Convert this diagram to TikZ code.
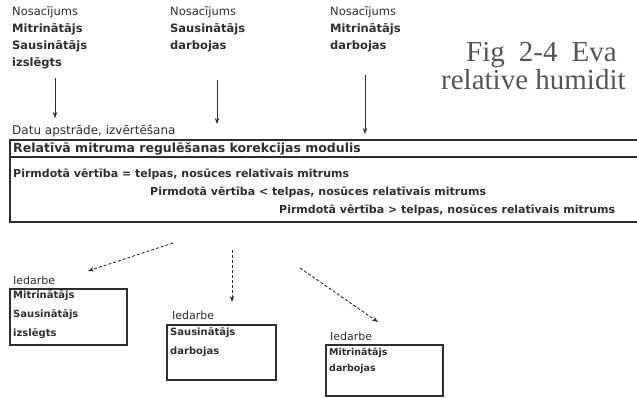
\documentclass[tikz,border=0pt]{standalone}
\usepackage{fontspec}
\setmainfont{DejaVu Sans}
\newfontfamily\serifx{Liberation Serif}
\usetikzlibrary{arrows.meta}
\definecolor{ink}{HTML}{2E2E2E}
\definecolor{inkl}{HTML}{555555}
\begin{document}
\begin{tikzpicture}[x=1pt,y=-1pt,
  txt/.style={anchor=west,inner sep=0pt,text=ink,font=\fontsize{12}{17}\selectfont,align=left},
  btxt/.style={anchor=west,inner sep=0pt,text=ink,font=\bfseries\fontsize{11}{13}\selectfont},
  capt/.style={anchor=base west,inner sep=0pt,text=inkl,font=\serifx\fontsize{29}{31}\selectfont},
  arr/.style={draw=ink,line width=0.9pt,-{Stealth[length=6pt,width=4.5pt]}},
  darr/.style={draw=ink,line width=0.9pt,dash pattern=on 3pt off 2pt,-{Stealth[length=6pt,width=4.5pt]}},
  boxl/.style={draw=ink,line width=1.2pt}]
\useasboundingbox (0,0) rectangle (637,398);
\clip (0,0) rectangle (637,398);
% top condition blocks
\node[txt,anchor=north west,font=\fontsize{11.5}{17}\selectfont] (c1) at (12,7) {Nosacījums\\\textbf{Mitrinātājs}\\\textbf{Sausinātājs}\\\textbf{izslēgts}};
\node[txt,anchor=north west,font=\fontsize{11.5}{17}\selectfont] (c2) at (170,7) {Nosacījums\\\textbf{Sausinātājs}\\\textbf{darbojas}};
\node[txt,anchor=north west,font=\fontsize{11.5}{17}\selectfont] (c3) at (330,7) {Nosacījums\\\textbf{Mitrinātājs}\\\textbf{darbojas}};
% caption fragment
\node[capt] (f1) at (466,62) {Fig\hspace{14pt}2-4\hspace{14pt}Eva};
\node[capt] (f2) at (441,90) {relative humidit};
% processing module
\node[txt] (datu) at (12,131) {Datu apstrāde, izvērtēšana};
\draw[boxl] (10,140) rectangle (660,222);
\draw[boxl] (10,157) -- (660,157);
\node[btxt,font=\bfseries\fontsize{12.5}{14}\selectfont] (hdr) at (13,149) {Relatīvā mitruma regulēšanas korekcijas modulis};
\node[btxt] (l1) at (13,174) {Pirmdotā vērtība = telpas, nosūces relatīvais mitrums};
\node[btxt] (l2) at (150,192) {Pirmdotā vērtība < telpas, nosūces relatīvais mitrums};
\node[btxt] (l3) at (279,210) {Pirmdotā vērtība > telpas, nosūces relatīvais mitrums};
% input arrows
\coordinate (s1) at (55,78);  \coordinate (e1) at (55,118);
\coordinate (s2) at (217,80); \coordinate (e2) at (217,124);
\coordinate (s3) at (365,75); \coordinate (e3) at (365,134);
\draw[arr] (s1) -- (e1);
\draw[arr] (s2) -- (e2);
\draw[arr] (s3) -- (e3);
% output blocks
\node[txt,font=\fontsize{11}{13}\selectfont] (i1) at (13,280) {Iedarbe};
\node[txt,font=\fontsize{11}{13}\selectfont] (i2) at (172,315) {Iedarbe};
\node[txt,font=\fontsize{11}{13}\selectfont] (i3) at (330,336) {Iedarbe};
\draw[boxl] (10,289) rectangle (127,345);
\draw[boxl] (167,325) rectangle (276,380);
\draw[boxl] (326,345) rectangle (443,396);
\node[txt,anchor=north west,font=\bfseries\fontsize{10}{19}\selectfont] (o1) at (13,291) {Mitrinātājs\\Sausinātājs\\izslēgts};
\node[txt,anchor=north west,font=\bfseries\fontsize{10}{19}\selectfont] (o2) at (170,328) {Sausinātājs\\darbojas};
\node[txt,anchor=north west,font=\bfseries\fontsize{9.5}{16}\selectfont] (o3) at (329,348) {Mitrinātājs\\darbojas};
% output arrows
\coordinate (d1s) at (173,243); \coordinate (d1e) at (88,271);
\coordinate (d2s) at (232,250); \coordinate (d2e) at (232,302);
\coordinate (d3s) at (300,268); \coordinate (d3e) at (378,322);
\draw[darr] (d1s) -- (d1e);
\draw[darr] (d2s) -- (d2e);
\draw[darr] (d3s) -- (d3e);
\end{tikzpicture}
\end{document}
